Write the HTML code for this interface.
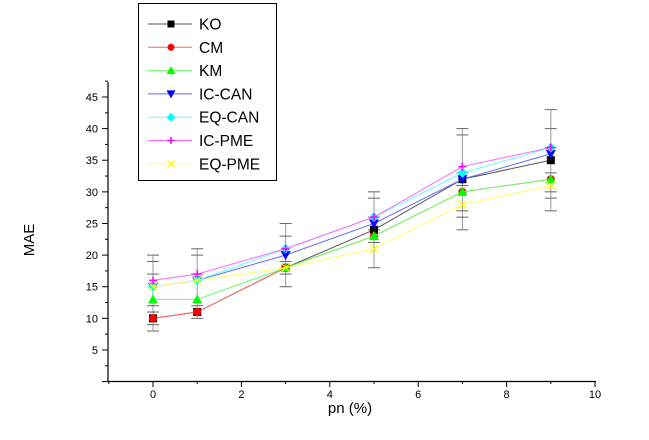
<!DOCTYPE html>
<html><head><meta charset="utf-8"><style>
html,body{margin:0;padding:0;background:#fff;}
svg{display:block;font-family:"Liberation Sans",Arial,sans-serif;}
</style></head><body>
<svg id="chart" width="649" height="440" viewBox="0 0 649 440"></svg>
<script>
const xValues = [0, 1, 3, 5, 7, 9];
const seriesNames = ["KO","CM","KM","IC-CAN","EQ-CAN","IC-PME","EQ-PME"];
const koValues = [10, 11, 18, 24, 32, 35];
const cmValues = [10, 11, 18, 23, 30, 32];
const kmValues = [13, 13, 18, 23, 30, 32];
const icCanValues = [15, 16, 20, 25, 32, 36];
const eqCanValues = [15, 16, 21, 26, 33, 37];
const icPmeValues = [16, 17, 21, 26, 34, 37];
const eqPmeValues = [15, 16, 18, 21, 28, 31];
const errLow = [8, 10, 15, 18, 24, 27];
const errHigh = [20, 21, 25, 30, 40, 43];
const errCaps = [[8,9,11,12,17,19,20],[10,12,17,20,21],[15,17,19,23,25],[18,22,24,26,29,30],[24,26,27,31,33,39,40],[27,29,30,33,37,40,43]];
const xTicks = [0,2,4,6,8,10];
const yTicks = [5,10,15,20,25,30,35,40,45];

const NS="http://www.w3.org/2000/svg";
const svg=document.getElementById('chart');
function X(v){return 153+(v-0)*44.2;}
function Y(v){return 381.6-v*6.325;}
function mk(tag,attrs,parent){const e=document.createElementNS(NS,tag);for(const k in attrs)e.setAttribute(k,attrs[k]);(parent||svg).appendChild(e);return e;}

const colors=["#000","#f00","#0f0","#00f","#0ff","#f0f","#ff0"];
const lineColors=["#555","#f66","#6f6","#66f","#6ff","#f6f","#ff6"];
const allSeries=[koValues,cmValues,kmValues,icCanValues,eqCanValues,icPmeValues,eqPmeValues];

const axes=mk('g',{});


mk('line',{x1:108,y1:381.5,x2:596,y2:381.5,stroke:'#000','stroke-width':1.2},axes);
mk('line',{x1:108,y1:82,x2:108,y2:381.5,stroke:'#000','stroke-width':1.2},axes);
for(let v=-1;v<=10;v++){const x=X(v);mk('line',{x1:x,y1:381,x2:x,y2:v%2===0?387:384,stroke:'#000'},axes);}
xTicks.forEach(v=>{const t=mk('text',{x:X(v),y:398,'text-anchor':'middle','font-size':11},axes);t.textContent=v;

});
for(let v=0;v<=47.5;v+=2.5){const y=Y(v);mk('line',{x1:108,y1:y,x2:v%5===0?102:105,y2:y,stroke:'#000'},axes);}
yTicks.forEach(v=>{const t=mk('text',{x:98,y:Y(v)+4,'text-anchor':'end','font-size':11},axes);t.textContent=v;

});
const xt=mk('text',{x:350,y:413,'text-anchor':'middle','font-size':15});xt.textContent='pn (%)';


const yt=mk('text',{x:0,y:0,'text-anchor':'middle','font-size':15,transform:'translate(34,240) rotate(-90)'});yt.textContent='MAE';



xValues.forEach((xv,i)=>{
 const g=mk('g',{});
 
 
 const x=X(xv);
 mk('line',{x1:x,y1:Y(errLow[i]),x2:x,y2:Y(errHigh[i]),stroke:'#999','stroke-width':1},g);
 errCaps[i].forEach(c=>mk('line',{x1:x-6,y1:Y(c),x2:x+6,y2:Y(c),stroke:'#666','stroke-width':1},g));
});

function marker(i,x,y,parent,s){
 s=s||4;const c=colors[i];
 if(i===0) return mk('rect',{x:x-s,y:y-s,width:2*s,height:2*s,fill:c},parent);
 if(i===1) return mk('circle',{cx:x,cy:y,r:s,fill:c},parent);
 if(i===2) return mk('polygon',{points:`${x},${y-s-1} ${x-s-1},${y+s} ${x+s+1},${y+s}`,fill:c},parent);
 if(i===3) return mk('polygon',{points:`${x},${y+s+1} ${x-s-1},${y-s} ${x+s+1},${y-s}`,fill:c},parent);
 if(i===4) return mk('polygon',{points:`${x},${y-s-1} ${x+s+1},${y} ${x},${y+s+1} ${x-s-1},${y}`,fill:c},parent);
 if(i===5){const g=mk('g',{},parent);mk('line',{x1:x-s,y1:y,x2:x+s,y2:y,stroke:c,'stroke-width':1.5},g);mk('line',{x1:x,y1:y-s,x2:x,y2:y+s,stroke:c,'stroke-width':1.5},g);return g;}
 const g=mk('g',{},parent);mk('line',{x1:x-s,y1:y-s,x2:x+s,y2:y+s,stroke:c,'stroke-width':1.2},g);mk('line',{x1:x-s,y1:y+s,x2:x+s,y2:y-s,stroke:c,'stroke-width':1.2},g);return g;
}

allSeries.forEach((vals,i)=>{
 const g=mk('g',{});
 
 
 const pts=vals.map((v,j)=>X(xValues[j])+','+Y(v)).join(' ');
 mk('polyline',{points:pts,fill:'none',stroke:lineColors[i],'stroke-width':1},g);
 vals.forEach((v,j)=>{const m=marker(i,X(xValues[j]),Y(v),g);
 
 });
});

const lg=mk('g',{});


mk('rect',{x:138.5,y:3.5,width:138,height:177,fill:'#fff',stroke:'#000','stroke-width':1},lg);
seriesNames.forEach((n,i)=>{
 const e=mk('g',{},lg);
 
 
 const y=24+i*23.3;
 mk('line',{x1:148,y1:y,x2:192,y2:y,stroke:lineColors[i],'stroke-width':1},e);
 marker(i,171,y,e,3.5);
 const t=mk('text',{x:199,y:y+5.5,'font-size':15.5},e);t.textContent=n;
});
</script>
</body></html>
